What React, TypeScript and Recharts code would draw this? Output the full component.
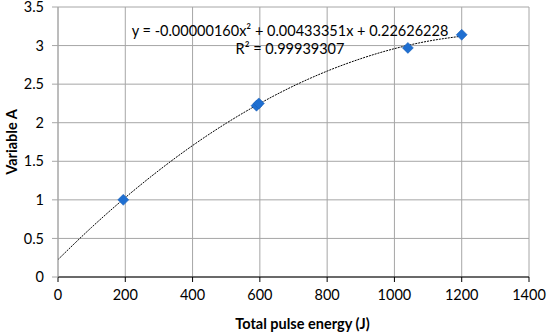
import React from "react";
import { ComposedChart, XAxis, YAxis, CartesianGrid, Line, Scatter, Customized } from "recharts";

const pointX = [194, 590, 597, 1040, 1200];
const pointY = [1.0, 2.22, 2.25, 2.97, 3.14];
const trendX = [0, 100, 200, 300, 400, 500, 600, 700, 800, 900, 1000, 1100, 1200];
const trendY = [0.226, 0.644, 1.029, 1.382, 1.704, 1.993, 2.25, 2.476, 2.669, 2.83, 2.96, 3.057, 3.122];
const xTicks = [0, 200, 400, 600, 800, 1000, 1200, 1400];
const yTicks = [0, 0.5, 1, 1.5, 2, 2.5, 3, 3.5];
const equationText = "y = -0.00000160x² + 0.00433351x + 0.22626228";
const r2Text = "R² = 0.99939307";

const points = pointX.map((x, i) => ({ x, y: pointY[i] }));
const trend = trendX.map((x, i) => ({ x, t: trendY[i] }));

const FONT = "Lato, 'Open Sans', sans-serif";

const Diamond = (props: any) => {
  const { cx, cy } = props;
  const r = 5.5;
  return (
    <polygon
      points={`${cx},${cy - r} ${cx + r},${cy} ${cx},${cy + r} ${cx - r},${cy}`}
      fill="#1F6FD1"
      stroke="#1A5FB4"
      strokeWidth={0.5}
    />
  );
};

const Equation = () => (
  <g fontFamily={FONT} fontSize={14.5} fill="#000">
    <text x={290} y={36} textAnchor="middle">{equationText}</text>
    <text x={290} y={54} textAnchor="middle">{r2Text}</text>
  </g>
);

export default function App() {
  return (
    <div style={{ position: "absolute", left: 0, top: 0, background: "#fff" }}>
      <ComposedChart width={550} height={334} margin={{ top: 7, right: 21, bottom: 0, left: 16 }}>
        <CartesianGrid stroke="#A6A6A6" strokeWidth={1} />
        <XAxis
          type="number"
          dataKey="x"
          domain={[0, 1400]}
          ticks={xTicks}
          interval={0}
          height={57}
          stroke="#000"
          tickLine={{ stroke: "#000" }}
          tickSize={5}
          tickMargin={8}
          tick={{ fill: "#000", fontSize: 14.5, fontFamily: FONT }}
          label={{ value: "Total pulse energy (J)", position: "insideBottom", offset: 5, dx: 9, fill: "#000", fontSize: 14.5, fontWeight: 700, fontFamily: FONT }}
        />
        <YAxis
          type="number"
          domain={[0, 3.5]}
          ticks={yTicks}
          interval={0}
          width={42}
          stroke="#A6A6A6"
          tickLine={{ stroke: "#A6A6A6" }}
          tickSize={6}
          tickMargin={8}
          tick={{ fill: "#000", fontSize: 14.5, fontFamily: FONT }}
          label={{ value: "Variable A", angle: -90, position: "insideLeft", dx: -9, style: { textAnchor: "middle" }, fill: "#000", fontSize: 14.5, fontWeight: 700, fontFamily: FONT }}
        />
        <Line
          data={trend}
          dataKey="t"
          type="monotone"
          stroke="#000"
          strokeWidth={1}
          strokeDasharray="2 1"
          dot={false}
          activeDot={false}
          isAnimationActive={false}
        />
        <Scatter data={points} dataKey="y" shape={<Diamond />} isAnimationActive={false} />
        <Customized component={Equation} />
      </ComposedChart>
    </div>
  );
}
